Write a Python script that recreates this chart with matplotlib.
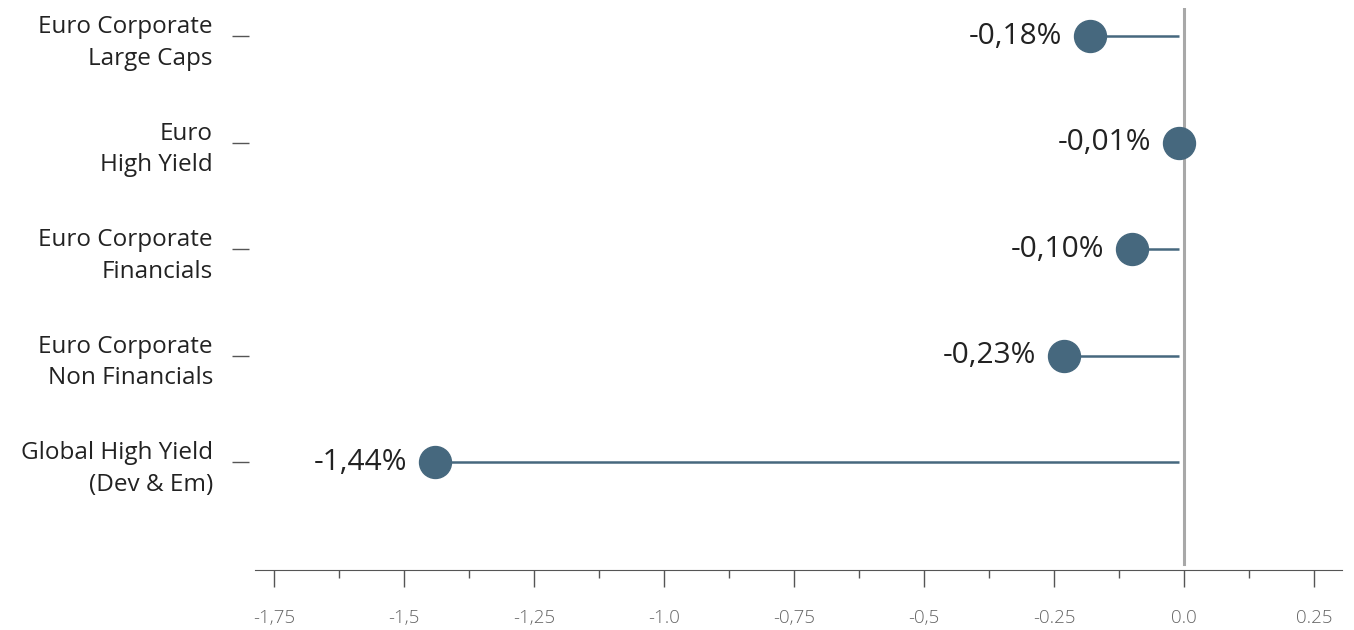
import matplotlib
matplotlib.use("Agg")
import matplotlib.pyplot as plt
from matplotlib.ticker import FixedLocator, MultipleLocator

# ---------------------------------------------------------------------------
# Data
# ---------------------------------------------------------------------------
categories = [
    "Euro Corporate\nLarge Caps",
    "Euro\nHigh Yield",
    "Euro Corporate\nFinancials",
    "Euro Corporate\nNon Financials",
    "Global High Yield\n(Dev & Em)",
]
returns = [-0.18, -0.01, -0.10, -0.23, -1.44]

x_ticks = [-1.75, -1.5, -1.25, -1.0, -0.75, -0.5, -0.25, 0.0, 0.25]
x_tick_labels = ["-1,75", "-1,5", "-1,25", "-1.0", "-0,75", "-0,5", "-0.25", "0.0", "0.25"]

# ---------------------------------------------------------------------------
# Style
# ---------------------------------------------------------------------------
DOT_COLOR = "#46687e"
TEXT_COLOR = "#222222"
AXIS_COLOR = "#555555"
STEM_END = -0.01

plt.rcParams["font.family"] = ["Open Sans", "DejaVu Sans"]

fig = plt.figure(figsize=(13.54, 6.30), dpi=100)
W, H = 1354, 630
# axes box in pixels: left 249, right 1342, top 8, bottom 570
ax = fig.add_axes([249 / W, 1 - 570 / H, (1342 - 249) / W, (570 - 8) / H])

ypos = list(range(len(categories)))

ax.hlines(ypos, returns, STEM_END, color=DOT_COLOR, linewidth=1.8, zorder=2)
ax.plot(returns, ypos, "o", color=DOT_COLOR, markersize=23, zorder=3)
ax.axvline(0, color="#a8a8a8", linewidth=2.2, zorder=1, ymax=1.0, ymin=0.01)

for v, y in zip(returns, ypos):
    ax.annotate(f"{v:.2f}%".replace(".", ","), (v, y), xytext=(-20, 0),
                textcoords="offset points", ha="right", va="center",
                fontsize=21.5, color=TEXT_COLOR)

# x axis
ax.set_xlim(-1.798, 0.304)
ax.xaxis.set_major_locator(FixedLocator(x_ticks))
ax.set_xticklabels(x_tick_labels)
ax.xaxis.set_minor_locator(MultipleLocator(0.125))
ax.tick_params(axis="x", which="major", length=12, width=1, color=AXIS_COLOR,
               pad=16, labelsize=13.5, labelcolor="#666666")
ax.tick_params(axis="x", which="minor", length=6, width=1, color=AXIS_COLOR)
for lbl in ax.get_xticklabels():
    lbl.set_fontweight("light")

# y axis
ax.set_ylim(len(categories) - 1 + 1.01, -0.263)
ax.set_yticks(ypos)
ax.set_yticklabels(categories, fontsize=17.5, color=TEXT_COLOR, linespacing=1.42)
ax.tick_params(axis="y", which="major", length=12, width=1, color=AXIS_COLOR, pad=14)

for side in ["top", "right", "left"]:
    ax.spines[side].set_visible(False)
ax.spines["bottom"].set_color(AXIS_COLOR)
ax.spines["bottom"].set_bounds(-1.787, 0.304)

fig.savefig("out.png", dpi=100)
